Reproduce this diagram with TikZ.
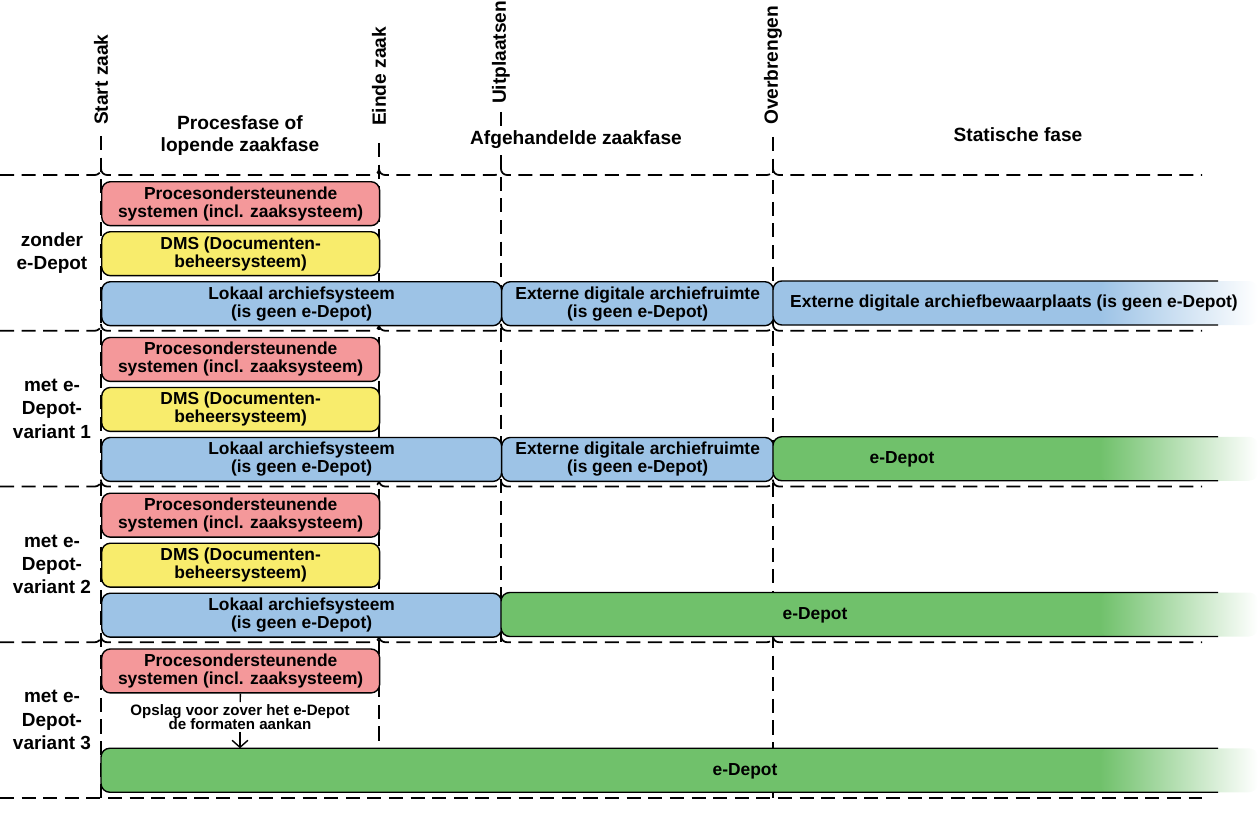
\documentclass[tikz,border=0pt]{standalone}
\usepackage{fontspec}
\setmainfont{Liberation Sans}
\usepackage{tikz}
\usetikzlibrary{arrows.meta,positioning,calc}

\definecolor{procred}{RGB}{244,152,154}
\definecolor{dmsyellow}{RGB}{248,236,108}
\definecolor{archblue}{RGB}{157,195,230}
\definecolor{depotgreen}{RGB}{112,193,107}

% bar that runs out of the picture: name, left x, top y, colour
\newcommand{\fadebar}[4]{%
  \fill[#4, rounded corners=5pt] (#2,#3) rectangle (1120,#3+44);
  \shade[left color=#4, right color=white, rounded corners=5pt] (1100,#3) rectangle (1258,#3+44);
  \draw[line width=0.8pt, rounded corners=5pt] (1218,#3) -- (#2,#3) -- (#2,#3+44) -- (1218,#3+44);
  \coordinate (#1) at (#2,#3);
}

\begin{document}
\begin{tikzpicture}[
    x=0.02cm,
    y=-0.02cm,
    sysbox/.style={
        rectangle,
        draw,
        rounded corners=5pt,
        line width=0.8pt,
        align=center,
        anchor=north west,
        inner sep=0pt,
        minimum height=0.88cm,
        font=\fontsize{9.9}{10.2}\selectfont\bfseries
    },
    bartext/.style={
        font=\fontsize{9.9}{10.2}\selectfont\bfseries
    },
    variant/.style={
        align=center,
        font=\fontsize{10.8}{13.3}\selectfont\bfseries
    },
    milestone/.style={
        rotate=90,
        anchor=west,
        inner sep=1pt,
        font=\fontsize{10.9}{12}\selectfont\bfseries
    },
    phase/.style={
        align=center,
        font=\fontsize{10.9}{13}\selectfont\bfseries
    },
    note/.style={
        align=center,
        fill=white,
        inner sep=1pt,
        font=\fontsize{8.6}{8.2}\selectfont\bfseries
    },
    gridline/.style={
        dash pattern=on 8pt off 4.3pt,
        line width=1pt
    },
    hop/.style={
        gridline,
        rounded corners=3.5pt
    },
    line/.style={
        draw,
        line width=0.8pt
    }
]
\useasboundingbox (0,0) rectangle (1258,828);

% Grid
\foreach \y in {175,330.75,486.5,642.25} {
  \draw[hop] (0,\y) -- (101,\y) -- (101,\y-7);
  \draw[hop] (101,\y-7) -- (101,\y) -- (379,\y) -- (379,\y-7);
  \draw[hop] (379,\y-7) -- (379,\y) -- (501,\y) -- (501,\y-7);
  \draw[hop] (501,\y-7) -- (501,\y) -- (773,\y) -- (773,\y-7);
  \draw[hop] (773,\y-7) -- (773,\y) -- (1202,\y);
}
\draw[gridline] (0,798) -- (1202,798);
\draw[gridline] (101,136) -- (101,798);
\draw[gridline] (379,143) -- (379,748);
\draw[gridline] (501,112) -- (501,642);
\draw[gridline] (773,137) -- (773,798);

% Header
\node [milestone] (startzaak) at (101,127) {Start zaak};
\node [milestone] (eindezaak) at (379,128) {Einde zaak};
\node [milestone] (uitplaatsen) at (501,106) {Uitplaatsen};
\node [milestone] (overbrengen) at (773,127) {Overbrengen};
\node [phase] (procesfase) at (240,135.5) {Procesfase of\\lopende zaakfase};
\node [phase, fill=white, inner sep=1pt] (afgehandeld) at (576,140) {Afgehandelde zaakfase};
\node [phase] (statisch) at (1018,135) {Statische fase};

% Left labels
\node [variant] (zonder) at (52,253) {zonder\\e-Depot};
\node [variant] (variant1) at (52,408.6) {met e-\\Depot-\\variant 1};
\node [variant] (variant2) at (52,564.4) {met e-\\Depot-\\variant 2};
\node [variant] (variant3) at (52,720) {met e-\\Depot-\\variant 3};

% zonder e-Depot
\node [sysbox, fill=procred, minimum width=5.56cm] (proc1) at (101,181) {Procesondersteunende\\systemen (incl. zaaksysteem)};
\node [sysbox, fill=dmsyellow, minimum width=5.56cm] (dms1) at (101,231) {DMS (Documenten-\\beheersysteem)};
\node [sysbox, fill=archblue, minimum width=8cm] (lokaal1) at (101,281) {Lokaal archiefsysteem\\(is geen e-Depot)};
\node [sysbox, fill=archblue, minimum width=5.44cm] (extern1) at (501,281) {Externe digitale archiefruimte\\(is geen e-Depot)};
\fadebar{bewaar1}{773}{281}{archblue}
\node [bartext] (bewaartxt) at (1014,303) {Externe digitale archiefbewaarplaats (is geen e-Depot)};

% variant 1
\node [sysbox, fill=procred, minimum width=5.56cm] (proc2) at (101,336.75) {Procesondersteunende\\systemen (incl. zaaksysteem)};
\node [sysbox, fill=dmsyellow, minimum width=5.56cm] (dms2) at (101,386.75) {DMS (Documenten-\\beheersysteem)};
\node [sysbox, fill=archblue, minimum width=8cm] (lokaal2) at (101,436.75) {Lokaal archiefsysteem\\(is geen e-Depot)};
\node [sysbox, fill=archblue, minimum width=5.44cm] (extern2) at (501,436.75) {Externe digitale archiefruimte\\(is geen e-Depot)};
\fadebar{depot2}{773}{436.75}{depotgreen}
\node [bartext] (depottxt2) at (902,459.5) {e-Depot};

% variant 2
\node [sysbox, fill=procred, minimum width=5.56cm] (proc3) at (101,492.5) {Procesondersteunende\\systemen (incl. zaaksysteem)};
\node [sysbox, fill=dmsyellow, minimum width=5.56cm] (dms3) at (101,542.5) {DMS (Documenten-\\beheersysteem)};
\node [sysbox, fill=archblue, minimum width=8cm] (lokaal3) at (101,592.5) {Lokaal archiefsysteem\\(is geen e-Depot)};
\fadebar{depot3}{501}{592.5}{depotgreen}
\node [bartext] (depottxt3) at (815,615) {e-Depot};

% variant 3
\node [sysbox, fill=procred, minimum width=5.56cm] (proc4) at (101,648.25) {Procesondersteunende\\systemen (incl. zaaksysteem)};
\fadebar{depot4}{101}{748.25}{depotgreen}
\node [bartext] (depottxt4) at (745,771) {e-Depot};
\node [note] (opslag) at (240,717) {Opslag voor zover het e-Depot\\de formaten aankan};

% Edges
\path [line] (proc4) -- (opslag);
\path [line, -{Straight Barb[length=4pt,width=9pt]}] (opslag) -- (opslag |- depot4);

\end{tikzpicture}
\end{document}
